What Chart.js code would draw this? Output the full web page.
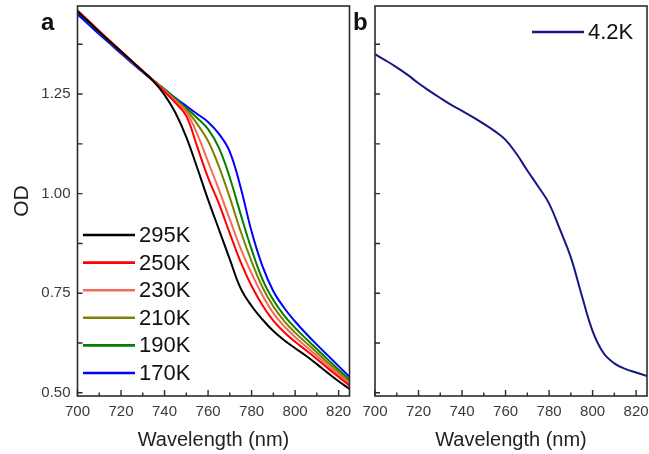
<!DOCTYPE html>
<html>
<head>
<meta charset="utf-8">
<script src="https://cdn.jsdelivr.net/npm/chart.js@4.4.1/dist/chart.umd.min.js"></script>
<style>
  html, body { margin: 0; padding: 0; background: #fff; }
  #wrap { position: relative; width: 649px; height: 454px; overflow: hidden; }
  #chartA { position: absolute; left: 0; top: 0; }
  #chartB { position: absolute; left: 350px; top: 0; }
</style>
</head>
<body>
<div id="wrap">
  <canvas id="chartA" width="352" height="454"></canvas>
  <canvas id="chartB" width="299" height="454"></canvas>
</div>
<script>
// Wellenlängen (nm)
var wavelength = [700, 705, 710, 715, 720, 725, 730, 735, 740, 745, 750, 755, 760,
                  765, 770, 775, 780, 785, 790, 795, 800, 805, 810, 815, 820, 825];

// Panel a: OD bei verschiedenen Temperaturen
var od295 = [1.457, 1.432, 1.406, 1.381, 1.357, 1.332, 1.307, 1.281, 1.248, 1.203, 1.142, 1.065, 0.985,
             0.910, 0.835, 0.762, 0.718, 0.684, 0.655, 0.632, 0.612, 0.593, 0.572, 0.550, 0.529, 0.510];
var od250 = [1.460, 1.434, 1.408, 1.383, 1.358, 1.333, 1.308, 1.283, 1.256, 1.228, 1.195, 1.118, 1.040,
             0.975, 0.900, 0.828, 0.768, 0.720, 0.681, 0.652, 0.628, 0.607, 0.585, 0.562, 0.540, 0.518];
var od230 = [1.459, 1.433, 1.407, 1.382, 1.357, 1.332, 1.307, 1.283, 1.258, 1.232, 1.205, 1.150, 1.080,
             1.010, 0.935, 0.862, 0.800, 0.745, 0.700, 0.667, 0.640, 0.616, 0.593, 0.569, 0.546, 0.523];
var od210 = [1.458, 1.432, 1.406, 1.381, 1.356, 1.331, 1.307, 1.284, 1.260, 1.235, 1.210, 1.175, 1.132,
             1.068, 0.990, 0.905, 0.830, 0.765, 0.717, 0.680, 0.651, 0.626, 0.601, 0.576, 0.552, 0.528];
var od190 = [1.457, 1.431, 1.405, 1.380, 1.356, 1.331, 1.307, 1.284, 1.262, 1.238, 1.215, 1.190, 1.162,
             1.115, 1.040, 0.948, 0.860, 0.785, 0.733, 0.694, 0.663, 0.636, 0.610, 0.584, 0.558, 0.533];
var od170 = [1.450, 1.425, 1.400, 1.376, 1.352, 1.328, 1.305, 1.283, 1.262, 1.240, 1.220, 1.200, 1.180,
             1.150, 1.105, 1.015, 0.905, 0.818, 0.755, 0.713, 0.679, 0.649, 0.621, 0.594, 0.567, 0.540];

// Panel b: 4.2K
var od4k = [1.350, 1.334, 1.317, 1.298, 1.277, 1.258, 1.240, 1.223, 1.208, 1.192, 1.175, 1.157, 1.135,
            1.100, 1.058, 1.018, 0.975, 0.910, 0.840, 0.745, 0.655, 0.600, 0.574, 0.560, 0.551, 0.542];

// Achsen-Ticks
var xMajor = [700, 720, 740, 760, 780, 800, 820];
var xMinor = [710, 730, 750, 770, 790, 810];
var yMajor = [0.50, 0.75, 1.00, 1.25];
var yMinor = [0.625, 0.875, 1.125, 1.375];

var FONT = '"Liberation Sans", Arial, sans-serif';

function pts(ys) {
  return ys.map(function (y, i) { return { x: wavelength[i], y: y }; });
}

// Rahmen, nach innen gerichtete Ticks, Panel-Buchstabe und Legende
var framePlugin = {
  id: 'frame',
  afterDatasetsDraw: function (chart, args, opts) {
    var ctx = chart.ctx, a = chart.chartArea;
    var xs = chart.scales.x, ys = chart.scales.y;
    ctx.save();
    ctx.strokeStyle = '#2b2b2b';
    ctx.lineWidth = 1.6;
    ctx.strokeRect(a.left, a.top, a.right - a.left, a.bottom - a.top);
    ctx.lineWidth = 1.4;
    ctx.beginPath();
    xMajor.forEach(function (v) {
      var p = xs.getPixelForValue(v);
      ctx.moveTo(p, a.bottom); ctx.lineTo(p, a.bottom - 6);
    });
    xMinor.forEach(function (v) {
      var p = xs.getPixelForValue(v);
      ctx.moveTo(p, a.bottom); ctx.lineTo(p, a.bottom - 3.5);
    });
    yMajor.concat(yMinor).forEach(function (v) {
      var p = ys.getPixelForValue(v);
      if (p > a.bottom - 1) return;
      ctx.moveTo(a.left, p); ctx.lineTo(a.left + 5, p);
    });
    ctx.stroke();

    ctx.fillStyle = '#111';
    ctx.font = 'bold 24px ' + FONT;
    ctx.textBaseline = 'alphabetic';
    ctx.fillText(opts.label, opts.labelX, 30);

    ctx.font = '22px ' + FONT;
    ctx.textBaseline = 'middle';
    chart.data.datasets.forEach(function (ds, i) {
      var y = opts.legendY + i * opts.rowH;
      ctx.strokeStyle = ds.borderColor;
      ctx.lineWidth = 2.6;
      ctx.beginPath();
      ctx.moveTo(opts.legendX, y);
      ctx.lineTo(opts.legendX + 52, y);
      ctx.stroke();
      ctx.fillStyle = '#111';
      ctx.fillText(ds.label, opts.legendX + 56, y + 1);
    });
    ctx.restore();
  }
};

function xScale() {
  return {
    type: 'linear',
    min: 700,
    max: 825,
    afterBuildTicks: function (s) { s.ticks = xMajor.map(function (v) { return { value: v }; }); },
    afterFit: function (s) { s.height = 58; s.paddingLeft = 0; s.paddingRight = 0; },
    grid: { display: false, drawTicks: false },
    border: { display: false },
    ticks: { font: { family: FONT, size: 15 }, color: '#3a3a3a', padding: 7, maxRotation: 0, autoSkip: false },
    title: { display: true, text: 'Wavelength (nm)', font: { family: FONT, size: 20 }, color: '#222', padding: { top: 0, bottom: 2 } }
  };
}

function yScale(width, showLabels) {
  return {
    type: 'linear',
    min: 0.492,
    max: 1.471,
    afterBuildTicks: function (s) { s.ticks = yMajor.map(function (v) { return { value: v }; }); },
    afterFit: function (s) { s.width = width; s.paddingTop = 0; s.paddingBottom = 0; },
    grid: { display: false, drawTicks: false },
    border: { display: false },
    ticks: { display: showLabels, font: { family: FONT, size: 15 }, color: '#3a3a3a', padding: 7,
             callback: function (v) { return Number(v).toFixed(2); } },
    title: { display: showLabels, text: 'OD', font: { family: FONT, size: 21 }, color: '#222', padding: { top: 10, bottom: 0 } }
  };
}

function baseOptions() {
  return {
    responsive: false,
    animation: false,
    events: [],
    elements: { point: { radius: 0 }, line: { borderWidth: 2, tension: 0.4 } },
    plugins: { legend: { display: false }, tooltip: { enabled: false } }
  };
}

// Panel a
var optsA = baseOptions();
optsA.layout = { padding: { top: 6, right: 2.5, left: 0, bottom: 0 } };
optsA.scales = { x: xScale(), y: yScale(77.5, true) };
optsA.plugins.frame = { label: 'a', labelX: 41, legendX: 83, legendY: 235, rowH: 27.6 };

new Chart(document.getElementById('chartA'), {
  type: 'line',
  data: {
    datasets: [
      { label: '295K', data: pts(od295), borderColor: '#000000' },
      { label: '250K', data: pts(od250), borderColor: '#ff0000' },
      { label: '230K', data: pts(od230), borderColor: '#f26b55' },
      { label: '210K', data: pts(od210), borderColor: '#808000' },
      { label: '190K', data: pts(od190), borderColor: '#008000' },
      { label: '170K', data: pts(od170), borderColor: '#0000ff' }
    ]
  },
  options: optsA,
  plugins: [framePlugin]
});

// Panel b
var optsB = baseOptions();
optsB.layout = { padding: { top: 6, right: 2, left: 0, bottom: 0 } };
optsB.scales = { x: xScale(), y: yScale(25, false) };
optsB.plugins.frame = { label: 'b', labelX: 3, legendX: 182, legendY: 32, rowH: 0 };

new Chart(document.getElementById('chartB'), {
  type: 'line',
  data: {
    datasets: [
      { label: '4.2K', data: pts(od4k), borderColor: '#161687' }
    ]
  },
  options: optsB,
  plugins: [framePlugin]
});
</script>
</body>
</html>
